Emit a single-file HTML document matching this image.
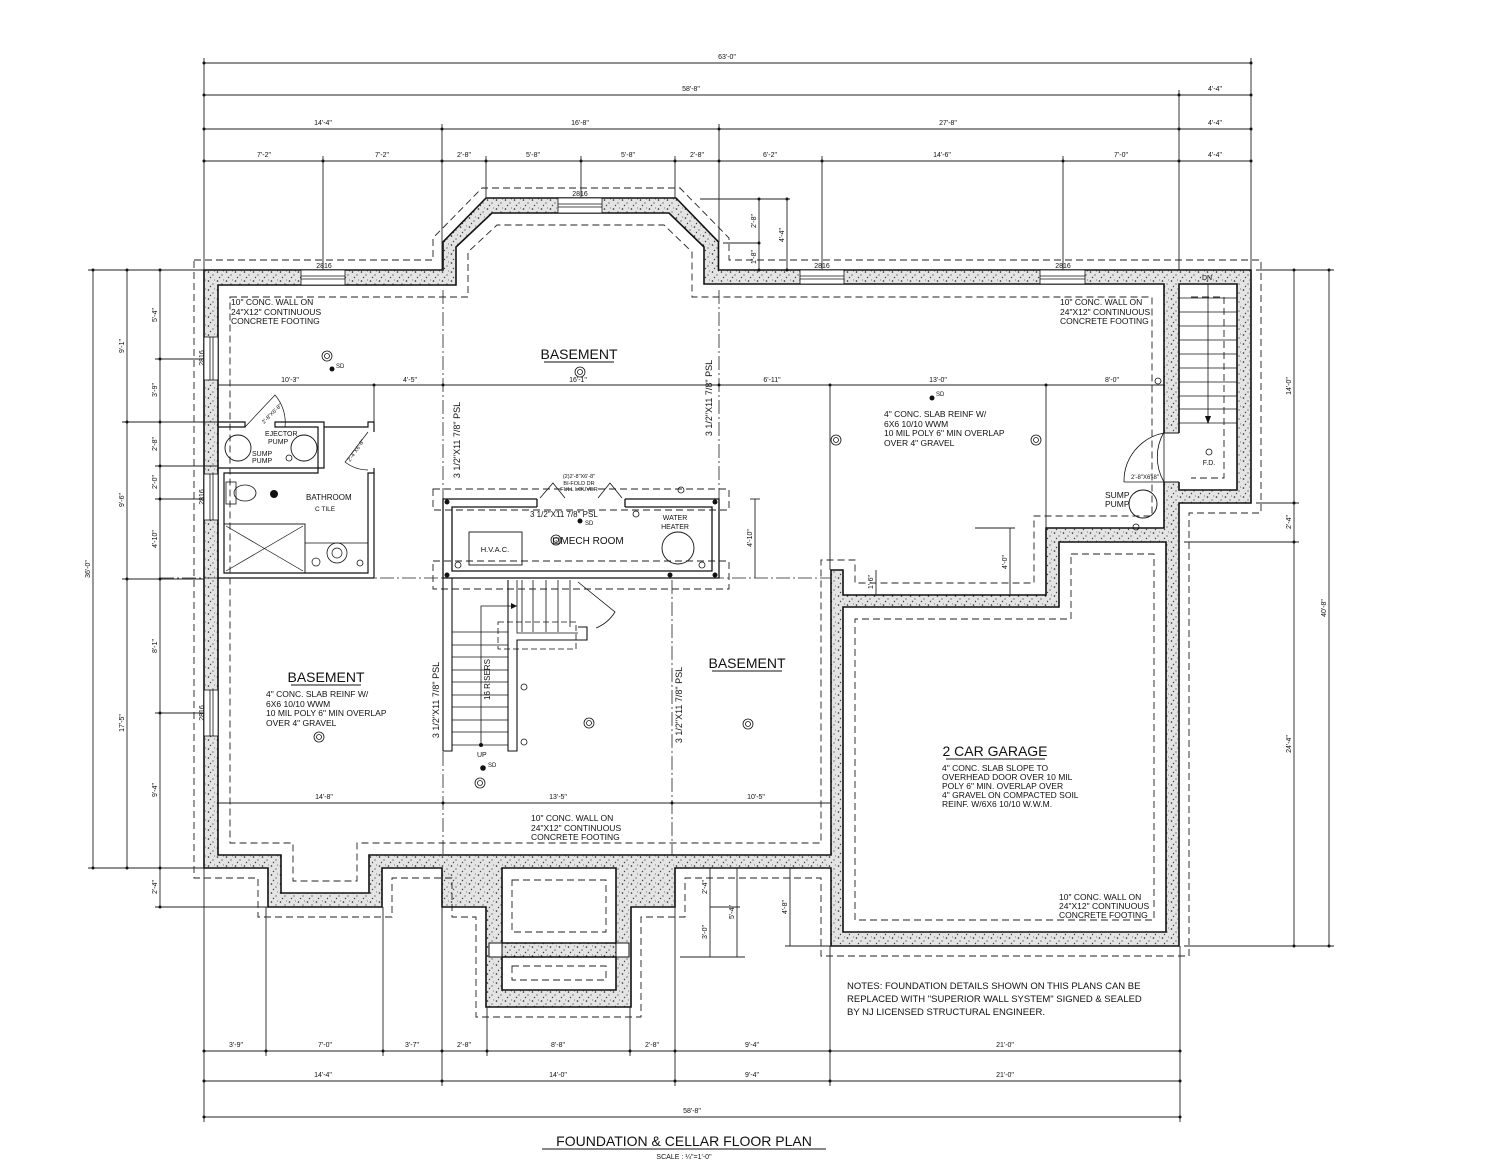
<!DOCTYPE html>
<html><head><meta charset="utf-8"><style>
html,body{margin:0;padding:0;background:#fff;}
svg{display:block;}
text{font-family:"Liberation Sans Narrow","Liberation Sans",sans-serif;fill:#111;}
.d{font-size:7px;}
.n{font-size:8.5px;}
.L{font-size:14px;}
</style></head><body>
<svg width="1500" height="1167" viewBox="0 0 1500 1167" xmlns="http://www.w3.org/2000/svg">
<defs>
<pattern id="st" width="9" height="9" patternUnits="userSpaceOnUse">
<rect width="9" height="9" fill="#e4e4e4"/>
<circle cx="1.5" cy="2" r="0.8" fill="#222"/><circle cx="6" cy="5" r="0.6" fill="#333"/><circle cx="3.5" cy="7.5" r="0.7" fill="#444"/><circle cx="7.5" cy="1" r="0.5" fill="#555"/>
</pattern>
</defs>
<rect width="1500" height="1167" fill="#fff"/>

<!-- ===== WALLS ===== -->
<path fill="url(#st)" fill-rule="evenodd" stroke="#111" stroke-width="1.6" d="
M204,270 L443,270 L443,242 L486,198 L676,198 L718.5,242 L718.5,270 L1251,270 L1251,503 L1179,503 L1179,946 L831,946 L831,868 L675,868 L675,907 L631,907 L631,1007 L486,1007 L486,907 L442,907 L442,868 L382,868 L382,907 L268,907 L268,868 L204,868 Z
M218,285 L456,285 L456,247 L492,213 L669,213 L704,247 L704,284 L1164,284 L1164,528 L1046,528 L1046,595 L843,595 L843,570 L831,570 L831,855 L369,855 L369,893 L281,893 L281,855 L218,855 Z
M1059,542 L1166,542 L1166,932 L843,932 L843,607 L1059,607 Z
M1179,284 L1237,284 L1237,490 L1179,490 Z
M502,868 L616,868 L616,943 L502,943 Z
M502,957 L616,957 L616,990 L502,990 Z"/>
<!-- small squares in well -->
<rect x="489" y="943" width="13" height="14" fill="#fff" stroke="#111"/><rect x="616" y="943" width="13" height="14" fill="#fff" stroke="#111"/>

<!-- windows -->
<g fill="#fff" stroke="#111" stroke-width="0.8">
<rect x="301" y="270" width="44" height="15"/><line x1="301" y1="276" x2="345" y2="276"/><line x1="301" y1="279" x2="345" y2="279"/>
<rect x="558" y="198" width="44" height="15"/><line x1="558" y1="204" x2="602" y2="204"/><line x1="558" y1="207" x2="602" y2="207"/>
<rect x="800" y="270" width="44" height="14"/><line x1="800" y1="276" x2="844" y2="276"/><line x1="800" y1="279" x2="844" y2="279"/>
<rect x="1040" y="270" width="45" height="14"/><line x1="1040" y1="276" x2="1085" y2="276"/><line x1="1040" y1="279" x2="1085" y2="279"/>
<rect x="204" y="337" width="14" height="43"/><line x1="210" y1="337" x2="210" y2="380"/><line x1="213" y1="337" x2="213" y2="380"/>
<rect x="204" y="474" width="14" height="46"/><line x1="210" y1="474" x2="210" y2="520"/><line x1="213" y1="474" x2="213" y2="520"/>
<rect x="204" y="690" width="14" height="46"/><line x1="210" y1="690" x2="210" y2="736"/><line x1="213" y1="690" x2="213" y2="736"/>
</g>
<!-- door gap to stair -->
<rect x="1163" y="433" width="17" height="49" fill="#fff"/>
<line x1="1164" y1="433" x2="1179" y2="433" stroke="#111"/><line x1="1164" y1="482" x2="1179" y2="482" stroke="#111"/>
<path d="M1164,482 A50,50 0 0 1 1164,432" transform="translate(0,0)" fill="none" stroke="#111" stroke-width="0.8"/>
<path d="M1164,433 L1164,482 M1164,433 A49,49 0 0 0 1124,482" fill="none" stroke="#111" stroke-width="0.8"/>
<line x1="1124" y1="482" x2="1164" y2="482" stroke="#111" stroke-width="0.8"/>

<!-- ===== FOOTING DASHED ===== -->
<g fill="none" stroke="#222" stroke-width="0.9" stroke-dasharray="7,4">
<path d="M194,260 L433,260 L433,238 L482,188 L680,188 L729,238 L729,260 L1261,260 L1261,513 L1189,513 L1189,956 L821,956 L821,878 L685,878 L685,917 L641,917 L641,1017 L476,1017 L476,917 L452,917 L452,878 L392,878 L392,917 L258,917 L258,878 L194,878 Z"/>
<path d="M230,297 L468,297 L468,252 L497,225 L664,225 L692,252 L692,297 L1152,297 L1152,516 L1034,516 L1034,583 L855,583 L855,560 L821,560 L821,843 L357,843 L357,881 L293,881 L293,843 L230,843 Z"/>
<path d="M1071,554 L1154,554 L1154,920 L855,920 L855,619 L1071,619 Z"/>
<path d="M1191,297 L1224,297 L1224,478 L1191,478"/>
<path d="M512,880 L606,880 L606,932 L512,932 Z M512,966 L606,966 L606,980 L512,980 Z"/>
<rect x="433" y="489" width="296" height="21"/>
<rect x="433" y="561" width="296" height="28"/>
</g>

<!-- ===== CENTERLINES ===== -->
<g stroke="#222" stroke-width="0.8" stroke-dasharray="14,3,2,3" fill="none">
<line x1="443" y1="290" x2="443" y2="855"/>
<line x1="719" y1="290" x2="719" y2="500"/>
<line x1="672" y1="580" x2="672" y2="855"/>
<line x1="160" y1="578" x2="830" y2="578"/>
</g>

<!-- ===== DIMENSIONS ===== -->
<g stroke="#222" stroke-width="0.9" fill="none">
<!-- top -->
<line x1="204" y1="63" x2="1251" y2="63"/>
<line x1="204" y1="95" x2="1251" y2="95"/>
<line x1="204" y1="129" x2="1251" y2="129"/>
<line x1="204" y1="161" x2="1251" y2="161"/>
<line x1="204" y1="58" x2="204" y2="270"/>
<line x1="1251" y1="58" x2="1251" y2="270"/>
<line x1="1179" y1="90" x2="1179" y2="270"/>
<line x1="442" y1="124" x2="442" y2="270"/>
<line x1="719" y1="124" x2="719" y2="242"/>
<line x1="323" y1="156" x2="323" y2="270"/>
<line x1="486" y1="156" x2="486" y2="198"/>
<line x1="581" y1="156" x2="581" y2="198"/>
<line x1="675" y1="156" x2="675" y2="198"/>
<line x1="822" y1="156" x2="822" y2="270"/>
<line x1="1063" y1="156" x2="1063" y2="270"/>
<line x1="700" y1="199" x2="790" y2="199"/>
<line x1="723" y1="243" x2="759" y2="243"/>
<line x1="759" y1="199" x2="759" y2="270"/>
<line x1="787" y1="199" x2="787" y2="270"/>
<!-- left -->
<line x1="93" y1="270" x2="93" y2="868"/>
<line x1="127" y1="270" x2="127" y2="868"/>
<line x1="160" y1="270" x2="160" y2="907"/>
<line x1="88" y1="270" x2="204" y2="270"/>
<line x1="88" y1="868" x2="204" y2="868"/>
<line x1="155" y1="907" x2="268" y2="907"/>
<line x1="155" y1="359" x2="204" y2="359"/>
<line x1="122" y1="422" x2="218" y2="422"/>
<line x1="155" y1="466" x2="218" y2="466"/>
<line x1="155" y1="499" x2="204" y2="499"/>
<line x1="122" y1="579" x2="204" y2="579"/>
<line x1="155" y1="713" x2="204" y2="713"/>
<!-- right -->
<line x1="1294" y1="270" x2="1294" y2="946"/>
<line x1="1329" y1="270" x2="1329" y2="946"/>
<line x1="1256" y1="270" x2="1334" y2="270"/>
<line x1="1256" y1="503" x2="1299" y2="503"/>
<line x1="1184" y1="542" x2="1299" y2="542"/>
<line x1="1184" y1="946" x2="1334" y2="946"/>
<!-- bottom -->
<line x1="204" y1="1051" x2="1180" y2="1051"/>
<line x1="204" y1="1081" x2="1180" y2="1081"/>
<line x1="204" y1="1117" x2="1180" y2="1117"/>
<line x1="204" y1="868" x2="204" y2="1122"/>
<line x1="1180" y1="946" x2="1180" y2="1122"/>
<line x1="266" y1="907" x2="266" y2="1056"/>
<line x1="383" y1="907" x2="383" y2="1056"/>
<line x1="442" y1="907" x2="442" y2="1086"/>
<line x1="487" y1="1007" x2="487" y2="1056"/>
<line x1="630" y1="1007" x2="630" y2="1056"/>
<line x1="675" y1="907" x2="675" y2="1086"/>
<line x1="830" y1="946" x2="830" y2="1086"/>
<!-- well dims -->
<line x1="690" y1="868" x2="745" y2="868"/>
<line x1="710" y1="868" x2="710" y2="907"/>
<line x1="710" y1="907" x2="740" y2="907"/>
<line x1="710" y1="907" x2="710" y2="957"/>
<line x1="737" y1="868" x2="737" y2="957"/>
<line x1="680" y1="957" x2="745" y2="957"/>
<line x1="790" y1="868" x2="790" y2="946"/>
<line x1="785" y1="946" x2="831" y2="946"/>
<!-- interior dims -->
<line x1="218" y1="385" x2="1164" y2="385"/>
<line x1="374" y1="385" x2="374" y2="422"/>
<line x1="830" y1="385" x2="830" y2="570"/>
<line x1="1046" y1="385" x2="1046" y2="528"/>
<line x1="218" y1="803" x2="831" y2="803"/>
<line x1="750" y1="499" x2="760" y2="499"/>
<line x1="755" y1="499" x2="755" y2="578"/>
<line x1="1010" y1="528" x2="1010" y2="595"/>
<line x1="975" y1="528" x2="1015" y2="528"/>
<line x1="876" y1="570" x2="876" y2="595"/>
</g>
<g fill="#111">
<circle cx="204" cy="63" r="1.5"/><circle cx="1251" cy="63" r="1.5"/>
<circle cx="204" cy="95" r="1.5"/><circle cx="1179" cy="95" r="1.5"/><circle cx="1251" cy="95" r="1.5"/>
<circle cx="204" cy="129" r="1.5"/><circle cx="442" cy="129" r="1.5"/><circle cx="719" cy="129" r="1.5"/><circle cx="1179" cy="129" r="1.5"/><circle cx="1251" cy="129" r="1.5"/>
<circle cx="204" cy="161" r="1.5"/><circle cx="323" cy="161" r="1.5"/><circle cx="442" cy="161" r="1.5"/><circle cx="486" cy="161" r="1.5"/><circle cx="581" cy="161" r="1.5"/><circle cx="675" cy="161" r="1.5"/><circle cx="719" cy="161" r="1.5"/><circle cx="822" cy="161" r="1.5"/><circle cx="1063" cy="161" r="1.5"/><circle cx="1179" cy="161" r="1.5"/><circle cx="1251" cy="161" r="1.5"/>
<circle cx="93" cy="270" r="1.5"/><circle cx="93" cy="868" r="1.5"/><circle cx="127" cy="270" r="1.5"/><circle cx="127" cy="422" r="1.5"/><circle cx="127" cy="579" r="1.5"/><circle cx="127" cy="868" r="1.5"/>
<circle cx="160" cy="270" r="1.5"/><circle cx="160" cy="359" r="1.5"/><circle cx="160" cy="422" r="1.5"/><circle cx="160" cy="466" r="1.5"/><circle cx="160" cy="499" r="1.5"/><circle cx="160" cy="579" r="1.5"/><circle cx="160" cy="713" r="1.5"/><circle cx="160" cy="868" r="1.5"/><circle cx="160" cy="907" r="1.5"/>
<circle cx="1294" cy="270" r="1.5"/><circle cx="1294" cy="503" r="1.5"/><circle cx="1294" cy="542" r="1.5"/><circle cx="1294" cy="946" r="1.5"/><circle cx="1329" cy="270" r="1.5"/><circle cx="1329" cy="946" r="1.5"/>
<circle cx="204" cy="1051" r="1.5"/><circle cx="266" cy="1051" r="1.5"/><circle cx="383" cy="1051" r="1.5"/><circle cx="442" cy="1051" r="1.5"/><circle cx="487" cy="1051" r="1.5"/><circle cx="630" cy="1051" r="1.5"/><circle cx="675" cy="1051" r="1.5"/><circle cx="830" cy="1051" r="1.5"/><circle cx="1180" cy="1051" r="1.5"/>
<circle cx="204" cy="1081" r="1.5"/><circle cx="442" cy="1081" r="1.5"/><circle cx="675" cy="1081" r="1.5"/><circle cx="830" cy="1081" r="1.5"/><circle cx="1180" cy="1081" r="1.5"/>
<circle cx="204" cy="1117" r="1.5"/><circle cx="1180" cy="1117" r="1.5"/>
<circle cx="374" cy="385" r="1.5"/><circle cx="443" cy="385" r="1.5"/><circle cx="719" cy="385" r="1.5"/><circle cx="830" cy="385" r="1.5"/><circle cx="1046" cy="385" r="1.5"/>
<circle cx="443" cy="803" r="1.5"/><circle cx="672" cy="803" r="1.5"/>
<circle cx="759" cy="199" r="1.5"/><circle cx="787" cy="199" r="1.5"/><circle cx="759" cy="243" r="1.5"/><circle cx="759" cy="270" r="1.5"/><circle cx="787" cy="270" r="1.5"/>
</g>
<g class="d" text-anchor="middle">
<text x="727" y="59">63'-0"</text>
<text x="691" y="91">58'-8"</text><text x="1215" y="91">4'-4"</text>
<text x="323" y="125">14'-4"</text><text x="580" y="125">16'-8"</text><text x="948" y="125">27'-8"</text><text x="1215" y="125">4'-4"</text>
<text x="264" y="157">7'-2"</text><text x="382" y="157">7'-2"</text><text x="464" y="157">2'-8"</text><text x="533" y="157">5'-8"</text><text x="628" y="157">5'-8"</text><text x="697" y="157">2'-8"</text><text x="770" y="157">6'-2"</text><text x="942" y="157">14'-6"</text><text x="1121" y="157">7'-0"</text><text x="1215" y="157">4'-4"</text>
<text x="236" y="1047">3'-9"</text><text x="325" y="1047">7'-0"</text><text x="412" y="1047">3'-7"</text><text x="464" y="1047">2'-8"</text><text x="558" y="1047">8'-8"</text><text x="652" y="1047">2'-8"</text><text x="752" y="1047">9'-4"</text><text x="1005" y="1047">21'-0"</text>
<text x="323" y="1077">14'-4"</text><text x="558" y="1077">14'-0"</text><text x="752" y="1077">9'-4"</text><text x="1005" y="1077">21'-0"</text>
<text x="692" y="1113">58'-8"</text>
<text x="290" y="382">10'-3"</text><text x="410" y="382">4'-5"</text><text x="578" y="382">16'-1"</text><text x="772" y="382">6'-11"</text><text x="938" y="382">13'-0"</text><text x="1112" y="382">8'-0"</text>
<text x="324" y="799">14'-8"</text><text x="558" y="799">13'-5"</text><text x="756" y="799">10'-5"</text>
<text x="324" y="268">2816</text><text x="580" y="196">2816</text><text x="822" y="268">2816</text><text x="1063" y="268">2816</text>
<text x="1207" y="280">DN</text>
</g>
<g class="d" text-anchor="middle">
<text transform="translate(157,315) rotate(-90)">5'-4"</text>
<text transform="translate(157,390) rotate(-90)">3'-9"</text>
<text transform="translate(157,444) rotate(-90)">2'-8"</text>
<text transform="translate(157,482) rotate(-90)">2'-0"</text>
<text transform="translate(157,539) rotate(-90)">4'-10"</text>
<text transform="translate(157,646) rotate(-90)">8'-1"</text>
<text transform="translate(157,790) rotate(-90)">9'-4"</text>
<text transform="translate(157,887) rotate(-90)">2'-4"</text>
<text transform="translate(124,346) rotate(-90)">9'-1"</text>
<text transform="translate(124,500) rotate(-90)">9'-6"</text>
<text transform="translate(124,723) rotate(-90)">17'-5"</text>
<text transform="translate(90,569) rotate(-90)">36'-0"</text>
<text transform="translate(204,358) rotate(-90)">2816</text>
<text transform="translate(204,497) rotate(-90)">2816</text>
<text transform="translate(204,713) rotate(-90)">2816</text>
<text transform="translate(1291,386) rotate(-90)">14'-0"</text>
<text transform="translate(1291,522) rotate(-90)">2'-4"</text>
<text transform="translate(1291,744) rotate(-90)">24'-4"</text>
<text transform="translate(1326,608) rotate(-90)">40'-8"</text>
<text transform="translate(756,221) rotate(-90)">2'-8"</text>
<text transform="translate(756,257) rotate(-90)">1'-8"</text>
<text transform="translate(784,235) rotate(-90)">4'-4"</text>
<text transform="translate(752,538) rotate(-90)">4'-10"</text>
<text transform="translate(1007,562) rotate(-90)">4'-0"</text>
<text transform="translate(873,582) rotate(-90)">1'-6"</text>
<text transform="translate(707,887) rotate(-90)">2'-4"</text>
<text transform="translate(707,932) rotate(-90)">3'-0"</text>
<text transform="translate(734,912) rotate(-90)">5'-4"</text>
<text transform="translate(787,907) rotate(-90)">4'-8"</text>
</g>

<!-- ===== MECH ROOM ===== -->
<g fill="none" stroke="#111" stroke-width="1.3">
<path d="M537,499 L443,499 L443,578 L719,578 L719,499 L625,499"/>
<path d="M537,507 L452,507 L452,571 L712,571 L712,507 L625,507"/>
<line x1="537" y1="499" x2="537" y2="507"/><line x1="625" y1="499" x2="625" y2="507"/>
<path d="M540,498 L553,483 L565,498 M598,498 L610,483 L622,498" stroke-width="0.8"/>
<rect x="469" y="532" width="53" height="33" stroke-width="0.9"/>
<circle cx="678" cy="548" r="16" stroke-width="0.9"/>
</g>
<g fill="#111"><circle cx="447" cy="502" r="2.5"/><circle cx="715" cy="502" r="2.5"/><circle cx="447" cy="575" r="2.5"/><circle cx="715" cy="575" r="2.5"/><circle cx="670" cy="575" r="2.5"/><circle cx="580" cy="521" r="2.5"/></g>
<text x="495" y="552" style="font-size:7.5px" text-anchor="middle">H.V.A.C.</text>
<text x="675" y="520" style="font-size:7px" text-anchor="middle">WATER</text>
<text x="675" y="529" style="font-size:7px" text-anchor="middle">HEATER</text>
<text x="552" y="544" style="font-size:10px">⊡MECH ROOM</text>
<text x="530" y="517" style="font-size:8px">3 1/2"X11 7/8" PSL</text>
<text x="585" y="525" style="font-size:6px">SD</text>
<text x="579" y="478" style="font-size:5.5px" text-anchor="middle">(2)2'-8"X6'-8"</text>
<text x="579" y="485" style="font-size:5.5px" text-anchor="middle">BI-FOLD DR</text>
<text x="579" y="491" style="font-size:5.5px" text-anchor="middle">FULL LOUVER</text>

<!-- ===== STAIRS ===== -->
<g fill="none" stroke="#111" stroke-width="1.1">
<path d="M443,578 L443,751 L452,751 L452,578"/>
<path d="M508,580 L508,751 L517,751 L517,640 L587,640 L587,627 L578,627"/>
<path d="M517,580 L517,633 L578,633" stroke-width="0.8"/>
<g stroke-width="0.8">
<line x1="452" y1="632" x2="508" y2="632"/><line x1="452" y1="645" x2="508" y2="645"/><line x1="452" y1="657" x2="508" y2="657"/><line x1="452" y1="670" x2="508" y2="670"/><line x1="452" y1="682" x2="508" y2="682"/><line x1="452" y1="695" x2="508" y2="695"/><line x1="452" y1="707" x2="508" y2="707"/><line x1="452" y1="720" x2="508" y2="720"/><line x1="452" y1="732" x2="508" y2="732"/><line x1="452" y1="745" x2="508" y2="745"/>
<line x1="522" y1="580" x2="522" y2="632"/><line x1="533" y1="580" x2="533" y2="632"/><line x1="546" y1="580" x2="546" y2="632"/><line x1="558" y1="580" x2="558" y2="632"/><line x1="570" y1="580" x2="570" y2="627"/>
<path d="M481,745 L481,606 L517,606"/>
<path d="M578,582 L615,612 A40,40 0 0 1 596,628"/>
</g>
<rect x="498" y="622" width="78" height="27" stroke-dasharray="6,3" stroke-width="0.8"/>
</g>
<path d="M517,606 L511,603 L511,609 Z" fill="#111"/>
<circle cx="481" cy="745" r="2" fill="#111"/>
<text x="477" y="757" style="font-size:7px">UP</text>
<circle cx="483" cy="768" r="2.8" fill="#111"/><text x="488" y="767" style="font-size:6px">SD</text>
<text transform="translate(490,700) rotate(-90)" style="font-size:8px">16 RISERS</text>

<!-- ===== RIGHT STAIR ===== -->
<g stroke="#111" stroke-width="0.8" fill="none">
<line x1="1179" y1="298" x2="1237" y2="298"/><line x1="1179" y1="312" x2="1237" y2="312"/><line x1="1179" y1="326" x2="1237" y2="326"/><line x1="1179" y1="340" x2="1237" y2="340"/><line x1="1179" y1="354" x2="1237" y2="354"/><line x1="1179" y1="368" x2="1237" y2="368"/><line x1="1179" y1="382" x2="1237" y2="382"/><line x1="1179" y1="396" x2="1237" y2="396"/><line x1="1179" y1="409" x2="1237" y2="409"/><line x1="1179" y1="423" x2="1237" y2="423"/>
<line x1="1208" y1="284" x2="1208" y2="422"/>
<circle cx="1209" cy="452" r="3"/>
</g>
<path d="M1208,424 L1205,416 L1211,416 Z" fill="#111"/>
<text x="1209" y="465" style="font-size:7px" text-anchor="middle">F.D.</text>
<text x="1145" y="479" style="font-size:6px" text-anchor="middle">2'-8"X6'-8"</text>

<!-- ===== BATHROOM ===== -->
<g fill="none" stroke="#111" stroke-width="1.2">
<path d="M218,422 L245,422 L245,427 L218,427"/>
<path d="M275,422 L324,422 L324,468 L318,468 L318,427 L275,427 Z"/>
<path d="M324,427 L368,427 L368,422 L374,422 L374,432"/>
<path d="M218,468 L318,468 L318,473 L224,473 L224,573 L368,573 L368,473 L374,473 L374,578 L218,578"/>
<line x1="374" y1="473" x2="374" y2="468"/>
<path d="M245,427 L275,395 A42,42 0 0 1 285,427" stroke-width="0.7"/>
<path d="M368,432 L345,462 A38,38 0 0 0 368,470" stroke-width="0.7"/>
<circle cx="238" cy="448" r="13" stroke-width="0.9"/>
<circle cx="304" cy="448" r="13" stroke-width="0.9"/>
<rect x="224" y="524" width="81" height="49" stroke-width="0.9"/>
<path d="M226,526 L303,571 M303,526 L226,571" stroke-width="0.7"/>
<rect x="226" y="482" width="10" height="22" stroke-width="0.8"/>
<ellipse cx="245" cy="493" rx="11" ry="8" stroke-width="0.8"/>
<line x1="305" y1="543" x2="368" y2="543" stroke-width="0.7"/>
<circle cx="337" cy="553" r="10" stroke-width="0.8"/><circle cx="337" cy="553" r="5" stroke-width="0.7"/>
<circle cx="316" cy="562" r="4" stroke-width="0.7"/>
</g>
<circle cx="274" cy="494" r="4" fill="#111"/>
<text x="265" y="436" style="font-size:7px">EJECTOR</text>
<text x="268" y="444" style="font-size:7px">PUMP</text>
<text x="252" y="456" style="font-size:7px">SUMP</text>
<text x="252" y="463" style="font-size:7px">PUMP</text>
<text x="306" y="500" style="font-size:8px">BATHROOM</text>
<text x="315" y="511" style="font-size:6.5px">C TILE</text>
<text transform="translate(264,424) rotate(-45)" style="font-size:5.5px">2'-8"X6'-8"</text>
<text transform="translate(350,462) rotate(-55)" style="font-size:5.5px">2'-4"X6'-8"</text>

<!-- ===== LABELS & NOTES ===== -->
<g class="n">
<text x="231" y="305">10" CONC. WALL ON</text><text x="231" y="315">24"X12" CONTINUOUS</text><text x="231" y="324">CONCRETE FOOTING</text>
<text x="1060" y="305">10" CONC. WALL ON</text><text x="1060" y="315">24"X12" CONTINUOUS</text><text x="1060" y="324">CONCRETE FOOTING</text>
<text x="531" y="821">10" CONC. WALL ON</text><text x="531" y="831">24"X12" CONTINUOUS</text><text x="531" y="840">CONCRETE FOOTING</text>
<text x="1059" y="900">10" CONC. WALL ON</text><text x="1059" y="909">24"X12" CONTINUOUS</text><text x="1059" y="918">CONCRETE FOOTING</text>
<text x="884" y="417">4" CONC. SLAB  REINF W/</text><text x="884" y="427">6X6 10/10 WWM</text><text x="884" y="436">10 MIL POLY 6" MIN OVERLAP</text><text x="884" y="446">OVER 4" GRAVEL</text>
<text x="266" y="697">4" CONC. SLAB  REINF W/</text><text x="266" y="707">6X6 10/10 WWM</text><text x="266" y="716">10 MIL POLY 6" MIN OVERLAP</text><text x="266" y="726">OVER 4" GRAVEL</text>
<text x="942" y="771">4" CONC. SLAB SLOPE TO</text><text x="942" y="780">OVERHEAD DOOR OVER 10 MIL</text><text x="942" y="789">POLY 6" MIN. OVERLAP OVER</text><text x="942" y="798">4" GRAVEL ON COMPACTED SOIL</text><text x="942" y="807">REINF. W/6X6 10/10 W.W.M.</text>
<text x="1105" y="498">SUMP</text><text x="1105" y="507">PUMP</text>
</g>
<circle cx="1143" cy="504" r="14" fill="none" stroke="#111" stroke-width="0.9"/>
<g style="font-size:9.5px">
<text x="847" y="989">NOTES: FOUNDATION DETAILS SHOWN ON THIS PLANS CAN BE</text>
<text x="847" y="1002">REPLACED WITH "SUPERIOR WALL SYSTEM" SIGNED &amp; SEALED</text>
<text x="847" y="1015">BY NJ LICENSED STRUCTURAL ENGINEER.</text>
</g>
<g class="L" text-anchor="middle">
<text x="579" y="359">BASEMENT</text><line x1="544" y1="362" x2="614" y2="362" stroke="#111"/>
<text x="326" y="682">BASEMENT</text><line x1="291" y1="685" x2="361" y2="685" stroke="#111"/>
<text x="747" y="668">BASEMENT</text><line x1="712" y1="671" x2="782" y2="671" stroke="#111"/>
<text x="995" y="756" style="font-size:14px">2 CAR GARAGE</text><line x1="946" y1="759" x2="1045" y2="759" stroke="#111"/>
</g>
<text transform="translate(460,440) rotate(-90)" style="font-size:9px" text-anchor="middle">3 1/2"X11 7/8" PSL</text>
<text transform="translate(712,398) rotate(-90)" style="font-size:9px" text-anchor="middle">3 1/2"X11 7/8" PSL</text>
<text transform="translate(439,700) rotate(-90)" style="font-size:9px" text-anchor="middle">3 1/2"X11 7/8" PSL</text>
<text transform="translate(682,705) rotate(-90)" style="font-size:9px" text-anchor="middle">3 1/2"X11 7/8" PSL</text>

<!-- light fixtures / SD / GFI -->
<g fill="none" stroke="#111" stroke-width="0.8">
<circle cx="327" cy="356" r="5"/><circle cx="327" cy="356" r="2.5"/>
<circle cx="580" cy="372" r="5"/><circle cx="580" cy="372" r="2.5"/>
<circle cx="836" cy="440" r="5"/><circle cx="836" cy="440" r="2.5"/>
<circle cx="1036" cy="440" r="5"/><circle cx="1036" cy="440" r="2.5"/>
<circle cx="319" cy="737" r="5"/><circle cx="319" cy="737" r="2.5"/>
<circle cx="589" cy="723" r="5"/><circle cx="589" cy="723" r="2.5"/>
<circle cx="748" cy="724" r="5"/><circle cx="748" cy="724" r="2.5"/>
<circle cx="480" cy="783" r="5"/><circle cx="480" cy="783" r="2.5"/>
<circle cx="556" cy="540" r="5"/><circle cx="556" cy="540" r="2.5"/>
<circle cx="524" cy="687" r="3"/><circle cx="524" cy="742" r="3"/><circle cx="458" cy="565" r="3"/><circle cx="702" cy="565" r="3"/><circle cx="681" cy="490" r="3"/><circle cx="636" cy="514" r="3"/><circle cx="1158" cy="381" r="3"/><circle cx="1136" cy="527" r="3"/><circle cx="289" cy="458" r="3"/><circle cx="360" cy="563" r="3"/>
</g>
<g fill="#111">
<circle cx="332" cy="369" r="2.5"/><circle cx="932" cy="398" r="2.5"/>
</g>
<g style="font-size:6px"><text x="336" y="368">SD</text><text x="936" y="396">SD</text></g>

<!-- ===== TITLE ===== -->
<text x="684" y="1146" text-anchor="middle" style="font-size:14px">FOUNDATION &amp; CELLAR FLOOR PLAN</text>
<line x1="542" y1="1149" x2="826" y2="1149" stroke="#111"/>
<text x="684" y="1159" text-anchor="middle" style="font-size:7px">SCALE : ¼"=1'-0"</text>
</svg>
</body></html>
